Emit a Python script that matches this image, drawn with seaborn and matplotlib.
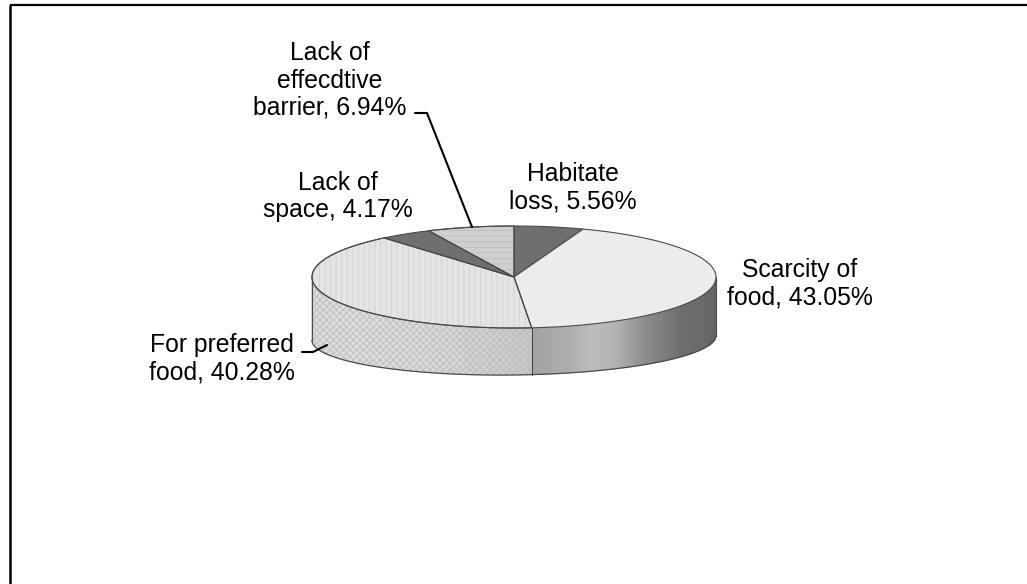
import numpy as np
import matplotlib
matplotlib.use("Agg")
import matplotlib.pyplot as plt
from matplotlib.patches import Polygon
import seaborn as sns

# Reasons and their shares (%), listed clockwise from 12 o'clock
categories = ["Habitate\nloss", "Scarcity of\nfood", "For preferred\nfood",
              "Lack of\nspace", "Lack of\neffecdtive\nbarrier"]
shares = [5.56, 43.05, 40.28, 4.17, 6.94]

sns.set_theme(style="white")
plt.rcParams["font.family"] = ["Liberation Sans", "DejaVu Sans"]
plt.rcParams["hatch.linewidth"] = 0.6

W, H = 1027, 584
fig = plt.figure(figsize=(W / 100, H / 100), dpi=100)
ax = fig.add_axes([0, 0, 1, 1])
ax.set_xlim(0, W)
ax.set_ylim(H, 0)
ax.axis("off")

# frame (top and left edges)
ax.plot([10, 10], [H, 5], color="black", lw=1.8, solid_capstyle="butt")
ax.plot([10, W], [5, 5], color="black", lw=1.6, solid_capstyle="butt")

# 3-D pie geometry (pixel space)
CX, CY, A, B = 514, 277, 202, 51
BOT_CY, BOT_B, BOT_TILT = 338, 37, -0.012
EDGE = "#4a4a4a"

top_fc = ["#6f6f6f", "#ececec", "#e4e4e4", "#6f6f6f", "#d0d0d0"]
top_hatch = [None, None, "|||", None, "---"]
top_hatch_col = [None, None, "#d0d0d0", None, "#bdbdbd"]


def top_pt(t):
    r = np.radians(t)
    return CX + A * np.sin(r), CY - B * np.cos(r)


def bot_pt(t):
    r = np.radians(t)
    x = CX + A * np.sin(r)
    return x, BOT_CY - BOT_B * np.cos(r) + BOT_TILT * (x - CX)


bounds = np.concatenate([[0], np.cumsum(shares)]) * 3.6

# side shading: cylinder-like light for the right slice, soft grey for the left one
shade_right_t = [90, 125, 140, 150, 158, 165, 176]
shade_right_v = [0.38, 0.43, 0.55, 0.70, 0.74, 0.68, 0.63]
shade_left_t = [175, 185, 200, 230, 270]
shade_left_v = [0.78, 0.81, 0.85, 0.87, 0.86]

split = bounds[2]  # boundary between the two front slices
ts = np.arange(90, 270.01, 1.0)
for t0, t1 in zip(ts[:-1], ts[1:]):
    tm = 0.5 * (t0 + t1)
    if tm < split:
        g = np.interp(tm, shade_right_t, shade_right_v)
    else:
        g = np.interp(tm, shade_left_t, shade_left_v)
    pts = [top_pt(t0), top_pt(t1), bot_pt(t1), bot_pt(t0)]
    ax.add_patch(Polygon(pts, closed=True, facecolor=(g, g, g),
                         edgecolor=(g, g, g), lw=0.6, zorder=2))

# fine mesh texture on the left side face
tl = np.linspace(split, 270, 120)
side_left = [top_pt(t) for t in tl] + [bot_pt(t) for t in tl[::-1]]
ax.add_patch(Polygon(side_left, closed=True, facecolor="none",
                     edgecolor="#bcbcbc", hatch="xxxxx", lw=0, zorder=3))

# side outlines
tb = np.linspace(90, 270, 200)
ax.plot([bot_pt(t)[0] for t in tb], [bot_pt(t)[1] for t in tb],
        color=EDGE, lw=0.9, zorder=4)
for t in (90, split, 270):
    (x0, y0), (x1, y1) = top_pt(t), bot_pt(t)
    ax.plot([x0, x1], [y0, y1], color=EDGE, lw=0.8, zorder=4)

# top faces
for i in range(len(shares)):
    ta = np.linspace(bounds[i], bounds[i + 1], 80)
    pts = [(CX, CY)] + [top_pt(t) for t in ta]
    ax.add_patch(Polygon(pts, closed=True, facecolor=top_fc[i],
                         edgecolor=EDGE, lw=0.8, zorder=5))
    if top_hatch[i]:
        ax.add_patch(Polygon(pts, closed=True, facecolor="none",
                             edgecolor=top_hatch_col[i], hatch=top_hatch[i],
                             lw=0, zorder=6))
        ax.add_patch(Polygon(pts, closed=True, facecolor="none",
                             edgecolor=EDGE, lw=0.8, zorder=7))

# data labels: centre x, first baseline y
label_pos = [(573, 181), (800, 277), (222, 352), (338, 190), (330, 60)]
LINE_STEP = 27.5
for name, val, (lx, ly) in zip(categories, shares, label_pos):
    lines = f"{name}, {val:.2f}%".split("\n")
    for k, line in enumerate(lines):
        ax.text(lx, ly + k * LINE_STEP, line, ha="center", va="baseline",
                fontsize=17.8, color="black", zorder=10)

# leader lines
ax.plot([302, 313, 327], [352, 352, 345], color="black", lw=1.5, zorder=9)
ax.plot([415, 427, 472], [113, 113, 227], color="black", lw=1.5, zorder=9)

fig.savefig("out.png", dpi=100, facecolor="white")
